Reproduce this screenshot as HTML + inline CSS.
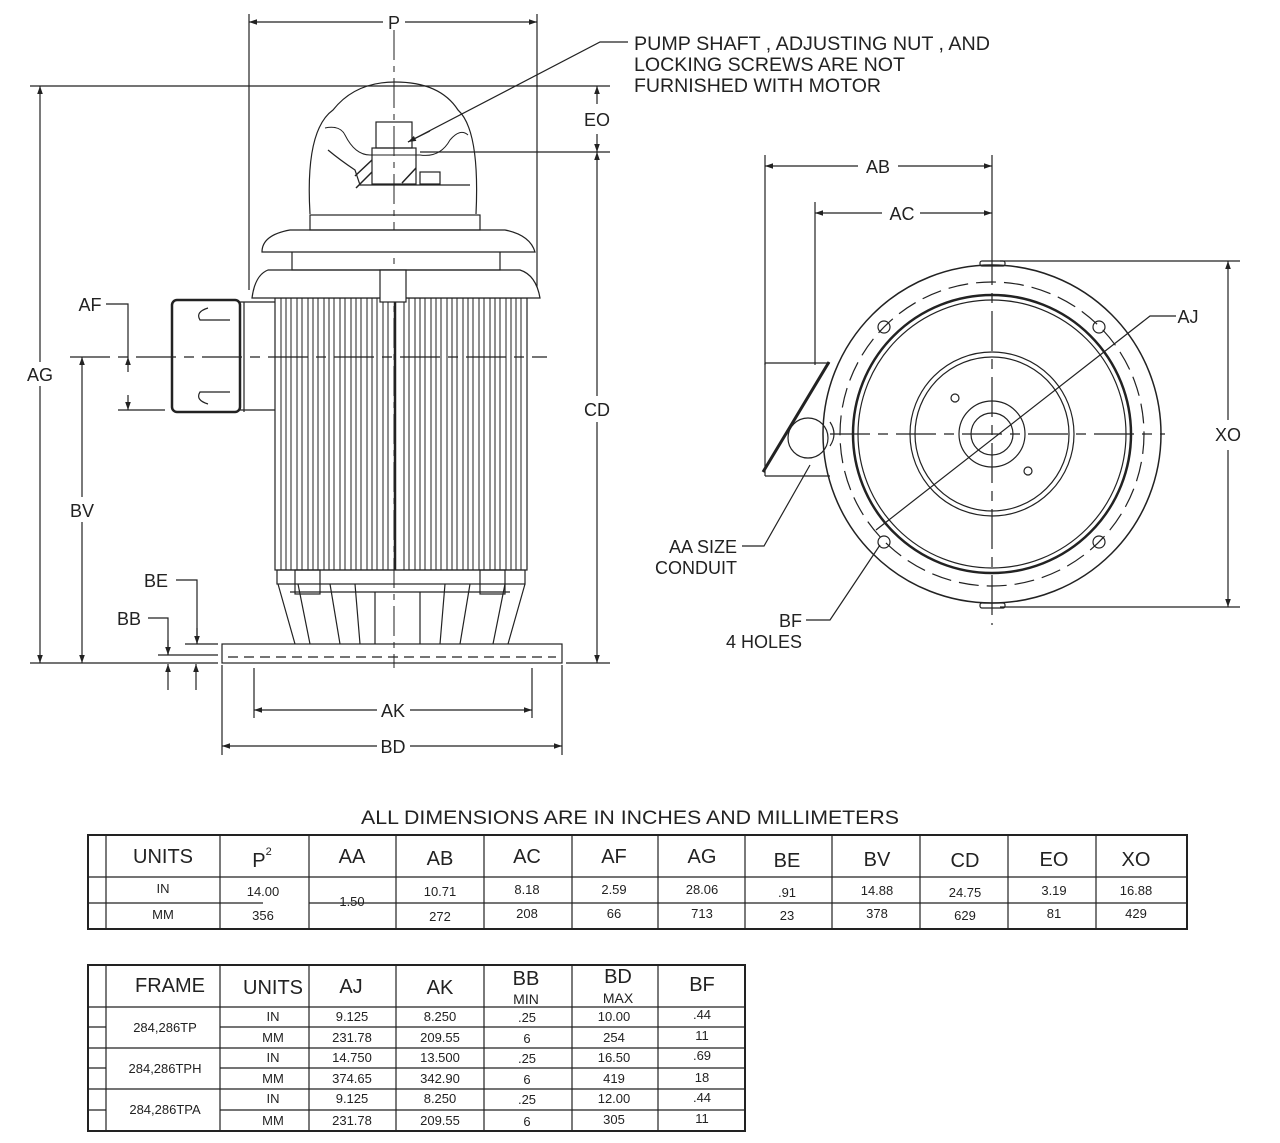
<!DOCTYPE html>
<html><head><meta charset="utf-8"><style>
html,body{margin:0;padding:0;background:#fff}
body{width:1280px;height:1143px;position:relative;overflow:hidden;font-family:"Liberation Sans",sans-serif}
svg{position:absolute;left:0;top:0}
text{font-family:"Liberation Sans",sans-serif;fill:#222}
</style></head><body>
<svg width="1280" height="1143" viewBox="0 0 1280 1143" xmlns="http://www.w3.org/2000/svg">
<defs>
<marker id="a" viewBox="0 0 10 10" refX="10" refY="5" markerWidth="8" markerHeight="8" orient="auto-start-reverse" markerUnits="userSpaceOnUse"><path d="M0,1.5 L10,5 L0,8.5 z" fill="#222"/></marker>
</defs>
<g stroke="#222" fill="none" stroke-width="1.2">
<line x1="249" y1="14" x2="249" y2="290"/><line x1="537" y1="14" x2="537" y2="290"/>
<line x1="249" y1="22" x2="383" y2="22" marker-start="url(#a)"/><line x1="405" y1="22" x2="537" y2="22" marker-end="url(#a)"/>
<line x1="30" y1="86" x2="610" y2="86"/>
<line x1="420" y1="152" x2="610" y2="152"/>
<line x1="40" y1="86" x2="40" y2="362" marker-start="url(#a)"/><line x1="40" y1="386" x2="40" y2="663" marker-end="url(#a)"/>
<line x1="82" y1="357" x2="82" y2="497" marker-start="url(#a)"/><line x1="82" y1="522" x2="82" y2="663" marker-end="url(#a)"/>
<line x1="597" y1="86" x2="597" y2="104" marker-start="url(#a)"/><line x1="597" y1="134" x2="597" y2="152" marker-end="url(#a)"/>
<line x1="597" y1="152" x2="597" y2="396" marker-start="url(#a)"/><line x1="597" y1="422" x2="597" y2="663" marker-end="url(#a)"/>
<line x1="30" y1="663" x2="218" y2="663"/><line x1="566" y1="663" x2="610" y2="663"/>
<line x1="70" y1="357" x2="547" y2="357" stroke-dasharray="40,8,10,8"/>
<line x1="118" y1="410" x2="165" y2="410"/>
<polyline points="106,304 128,304 128,357"/>
<line x1="128" y1="372" x2="128" y2="357" marker-end="url(#a)"/>
<line x1="128" y1="395" x2="128" y2="410" marker-end="url(#a)"/>
<polyline points="176,580 197,580 197,644" /><line x1="197" y1="628" x2="197" y2="644" marker-end="url(#a)"/>
<line x1="185" y1="644" x2="218" y2="644"/>
<polyline points="148,618 168,618 168,655"/><line x1="168" y1="640" x2="168" y2="655" marker-end="url(#a)"/>
<line x1="158" y1="655" x2="218" y2="655"/>
<line x1="168" y1="690" x2="168" y2="664" marker-end="url(#a)"/><line x1="196" y1="690" x2="196" y2="664" marker-end="url(#a)"/>
<line x1="222" y1="665" x2="222" y2="755"/><line x1="562" y1="665" x2="562" y2="755"/>
<line x1="254" y1="668" x2="254" y2="718"/><line x1="532" y1="668" x2="532" y2="718"/>
<line x1="254" y1="710" x2="377" y2="710" marker-start="url(#a)"/><line x1="410" y1="710" x2="532" y2="710" marker-end="url(#a)"/>
<line x1="222" y1="746" x2="377" y2="746" marker-start="url(#a)"/><line x1="410" y1="746" x2="562" y2="746" marker-end="url(#a)"/>
<line x1="394" y1="30" x2="394" y2="668" stroke-dasharray="30,6,6,6" stroke-width="1"/>
<polyline points="628,42 600,42 408,142"/><line x1="430" y1="131" x2="408" y2="142" marker-end="url(#a)"/>
<rect x="222" y="644" width="340" height="19"/>
<line x1="228" y1="657" x2="556" y2="657" stroke-dasharray="10,6"/>
<rect x="275" y="298" width="252" height="272"/>
<g stroke-width="1">
<path d="M281 298V570M286 298V570M291 298V570M297 298V570M302 298V570M308 298V570M313 298V570M318 298V570M324 298V570M329 298V570M334 298V570M340 298V570M345 298V570M351 298V570M356 298V570M361 298V570M367 298V570M372 298V570M377 298V570M383 298V570M388 298V570M404 298V570M409 298V570M415 298V570M420 298V570M425 298V570M431 298V570M436 298V570M441 298V570M447 298V570M452 298V570M457 298V570M463 298V570M468 298V570M473 298V570M479 298V570M484 298V570M490 298V570M495 298V570M500 298V570M506 298V570M511 298V570M516 298V570M521 298V570"/>
</g>
<line x1="395" y1="298" x2="395" y2="570" stroke-width="2.5"/>
<rect x="277" y="570" width="248" height="14"/>
<path d="M278 584 L295 644 M525 584 L508 644 M298 584 L310 644 M505 584 L493 644 M330 584 L340 644 M470 584 L460 644 M355 584 L360 644 M445 584 L440 644 M375 592 V644 M420 592 V644 M290 592 H510"/>
<rect x="295" y="570" width="25" height="24"/><rect x="480" y="570" width="25" height="24"/>
<path d="M252 298 Q255 275 268 270 H520 Q536 275 540 298 Z" fill="#fff"/>
<rect x="380" y="270" width="26" height="32" fill="#fff"/>
<rect x="292" y="246" width="208" height="24"/>
<path d="M262 252 Q262 235 290 230 H505 Q530 235 535 252 Z" fill="#fff"/>
<rect x="310" y="215" width="170" height="15"/>
<path d="M310 214 Q305 130 333 110 Q355 82 395 82 Q440 82 458 110 Q480 130 476 214"/>
<path d="M325 128 Q340 125 345 135 Q355 155 370 155 H420 Q440 158 450 140 Q460 128 468 135" stroke-width="1"/>
<path d="M328 150 Q340 160 355 170 L360 185 H470"/>
<rect x="376" y="122" width="36" height="26"/>
<rect x="372" y="148" width="44" height="36"/>
<path d="M355 176 L372 160 M356 188 L372 172 M402 183 L416 168" stroke-width="1.5"/>
<rect x="420" y="172" width="20" height="12"/>
<rect x="172" y="300" width="68" height="112" rx="5" stroke-width="2.5"/>
<path d="M240 302 H275 M240 410 H275 M244 302 V412"/>
<path d="M208 308 Q195 312 200 320 H230 M208 404 Q195 400 200 392 H230"/>

<line x1="765" y1="155" x2="765" y2="365"/><line x1="815" y1="202" x2="815" y2="365"/>
<line x1="992" y1="155" x2="992" y2="245"/>
<line x1="765" y1="166" x2="858" y2="166" marker-start="url(#a)"/><line x1="898" y1="166" x2="992" y2="166" marker-end="url(#a)"/>
<line x1="815" y1="213" x2="882" y2="213" marker-start="url(#a)"/><line x1="920" y1="213" x2="992" y2="213" marker-end="url(#a)"/>
<line x1="1000" y1="261" x2="1240" y2="261"/><line x1="1000" y1="607" x2="1240" y2="607"/>
<line x1="1228" y1="261" x2="1228" y2="420" marker-start="url(#a)"/><line x1="1228" y1="450" x2="1228" y2="607" marker-end="url(#a)"/>
<circle cx="992" cy="434" r="169" stroke-width="1.5"/>
<circle cx="992" cy="434" r="152" stroke-dasharray="20,8"/>
<circle cx="992" cy="434" r="139" stroke-width="2.5"/>
<circle cx="992" cy="434" r="134"/>
<circle cx="992" cy="434" r="82"/><circle cx="992" cy="434" r="77"/>
<circle cx="992" cy="434" r="33"/><circle cx="992" cy="434" r="21"/>
<circle cx="884" cy="327" r="6"/><circle cx="1099" cy="327" r="6"/><circle cx="884" cy="542" r="6"/><circle cx="1099" cy="542" r="6"/>
<circle cx="955" cy="398" r="4"/><circle cx="1028" cy="471" r="4"/>
<rect x="980" y="261" width="25" height="5" rx="2"/><rect x="980" y="603" width="25" height="5" rx="2"/>
<line x1="992" y1="245" x2="992" y2="625" stroke-dasharray="40,8,10,8"/>
<line x1="830" y1="434" x2="1165" y2="434" stroke-dasharray="40,8,10,8"/>
<polyline points="1176,316 1150,316 876,530"/>
<path d="M765 363 H830 M765 476 H830 M765 363 V476"/>
<line x1="829" y1="362" x2="763" y2="472" stroke-width="3"/>
<circle cx="808" cy="438" r="20"/>
<path d="M830 422 Q838 434 830 446"/>
<polyline points="742,546 764,546 810,465"/>
<polyline points="806,620 830,620 880,545"/>

<rect x="88" y="835" width="1099" height="94" stroke-width="2"/>
<line x1="106" y1="835" x2="106" y2="929"/>
<line x1="88" y1="877" x2="1187" y2="877"/>
<line x1="88" y1="903" x2="263" y2="903"/><line x1="309" y1="903" x2="1187" y2="903"/>
<path d="M220 835V929M309 835V929M396 835V929M484 835V929M572 835V929M658 835V929M745 835V929M832 835V929M920 835V929M1008 835V929M1096 835V929"/>
<rect x="88" y="965" width="657" height="166" stroke-width="2"/>
<line x1="106" y1="965" x2="106" y2="1131"/>
<line x1="88" y1="1007" x2="745" y2="1007"/>
<path d="M88 1027H106M220 1027H745M88 1048H745M88 1068H106M220 1068H745M88 1089H745M88 1110H106M220 1110H745"/>
<path d="M220 965V1131M309 965V1131M396 965V1131M484 965V1131M572 965V1131M658 965V1131"/>
</g>

<g font-size="18">
<text x="394" y="29" text-anchor="middle">P</text>
<text x="634" y="50" font-size="19" textLength="356" lengthAdjust="spacingAndGlyphs">PUMP SHAFT , ADJUSTING NUT , AND</text>
<text x="634" y="71" font-size="19" textLength="271" lengthAdjust="spacingAndGlyphs">LOCKING SCREWS ARE NOT</text>
<text x="634" y="92" font-size="19" textLength="247" lengthAdjust="spacingAndGlyphs">FURNISHED WITH MOTOR</text>
<text x="597" y="126" text-anchor="middle">EO</text>
<text x="597" y="416" text-anchor="middle">CD</text>
<text x="40" y="381" text-anchor="middle">AG</text>
<text x="82" y="517" text-anchor="middle">BV</text>
<text x="90" y="311" text-anchor="middle">AF</text>
<text x="156" y="587" text-anchor="middle">BE</text>
<text x="129" y="625" text-anchor="middle">BB</text>
<text x="393" y="717" text-anchor="middle">AK</text>
<text x="393" y="753" text-anchor="middle">BD</text>
<text x="878" y="173" text-anchor="middle">AB</text>
<text x="902" y="220" text-anchor="middle">AC</text>
<text x="1188" y="323" text-anchor="middle">AJ</text>
<text x="1228" y="441" text-anchor="middle">XO</text>
<text x="737" y="553" text-anchor="end">AA SIZE</text>
<text x="737" y="574" text-anchor="end">CONDUIT</text>
<text x="802" y="627" text-anchor="end">BF</text>
<text x="802" y="648" text-anchor="end">4 HOLES</text>
<text x="630" y="824" text-anchor="middle" font-size="19" textLength="538" lengthAdjust="spacingAndGlyphs">ALL DIMENSIONS ARE IN INCHES AND MILLIMETERS</text>
</g>
<g font-size="20" text-anchor="middle">
<text x="163" y="863">UNITS</text><text x="262" y="867">P<tspan font-size="11" dy="-12">2</tspan></text><text x="352" y="863">AA</text><text x="440" y="865">AB</text><text x="527" y="863">AC</text><text x="614" y="863">AF</text><text x="702" y="863">AG</text><text x="787" y="867">BE</text><text x="877" y="866">BV</text><text x="965" y="867">CD</text><text x="1054" y="866">EO</text><text x="1136" y="866">XO</text>
<text x="170" y="992">FRAME</text><text x="273" y="994">UNITS</text><text x="351" y="993">AJ</text><text x="440" y="994">AK</text><text x="526" y="985">BB</text><text x="618" y="983">BD</text><text x="702" y="991">BF</text>
</g>
<g font-size="14" text-anchor="middle">
<text x="526" y="1004">MIN</text><text x="618" y="1003">MAX</text>
</g>
<g font-size="13" text-anchor="middle">
<text x="163" y="893">IN</text><text x="263" y="896">14.00</text><text x="352" y="906">1.50</text><text x="440" y="896">10.71</text><text x="527" y="894">8.18</text><text x="614" y="894">2.59</text><text x="702" y="894">28.06</text><text x="787" y="897">.91</text><text x="877" y="895">14.88</text><text x="965" y="897">24.75</text><text x="1054" y="895">3.19</text><text x="1136" y="895">16.88</text>
<text x="163" y="919">MM</text><text x="263" y="920">356</text><text x="440" y="921">272</text><text x="527" y="918">208</text><text x="614" y="918">66</text><text x="702" y="918">713</text><text x="787" y="920">23</text><text x="877" y="918">378</text><text x="965" y="920">629</text><text x="1054" y="918">81</text><text x="1136" y="918">429</text>
<text x="165" y="1032">284,286TP</text><text x="165" y="1073">284,286TPH</text><text x="165" y="1114">284,286TPA</text>
<text x="273" y="1021">IN</text><text x="273" y="1042">MM</text><text x="273" y="1062">IN</text><text x="273" y="1083">MM</text><text x="273" y="1103">IN</text><text x="273" y="1125">MM</text>
<text x="352" y="1021">9.125</text><text x="352" y="1042">231.78</text><text x="352" y="1062">14.750</text><text x="352" y="1083">374.65</text><text x="352" y="1103">9.125</text><text x="352" y="1125">231.78</text>
<text x="440" y="1021">8.250</text><text x="440" y="1042">209.55</text><text x="440" y="1062">13.500</text><text x="440" y="1083">342.90</text><text x="440" y="1103">8.250</text><text x="440" y="1125">209.55</text>
<text x="527" y="1022">.25</text><text x="527" y="1043">6</text><text x="527" y="1063">.25</text><text x="527" y="1084">6</text><text x="527" y="1104">.25</text><text x="527" y="1126">6</text>
<text x="614" y="1021">10.00</text><text x="614" y="1042">254</text><text x="614" y="1062">16.50</text><text x="614" y="1083">419</text><text x="614" y="1103">12.00</text><text x="614" y="1124">305</text>
<text x="702" y="1019">.44</text><text x="702" y="1040">11</text><text x="702" y="1060">.69</text><text x="702" y="1082">18</text><text x="702" y="1102">.44</text><text x="702" y="1123">11</text>
</g>
</svg>
</body></html>
